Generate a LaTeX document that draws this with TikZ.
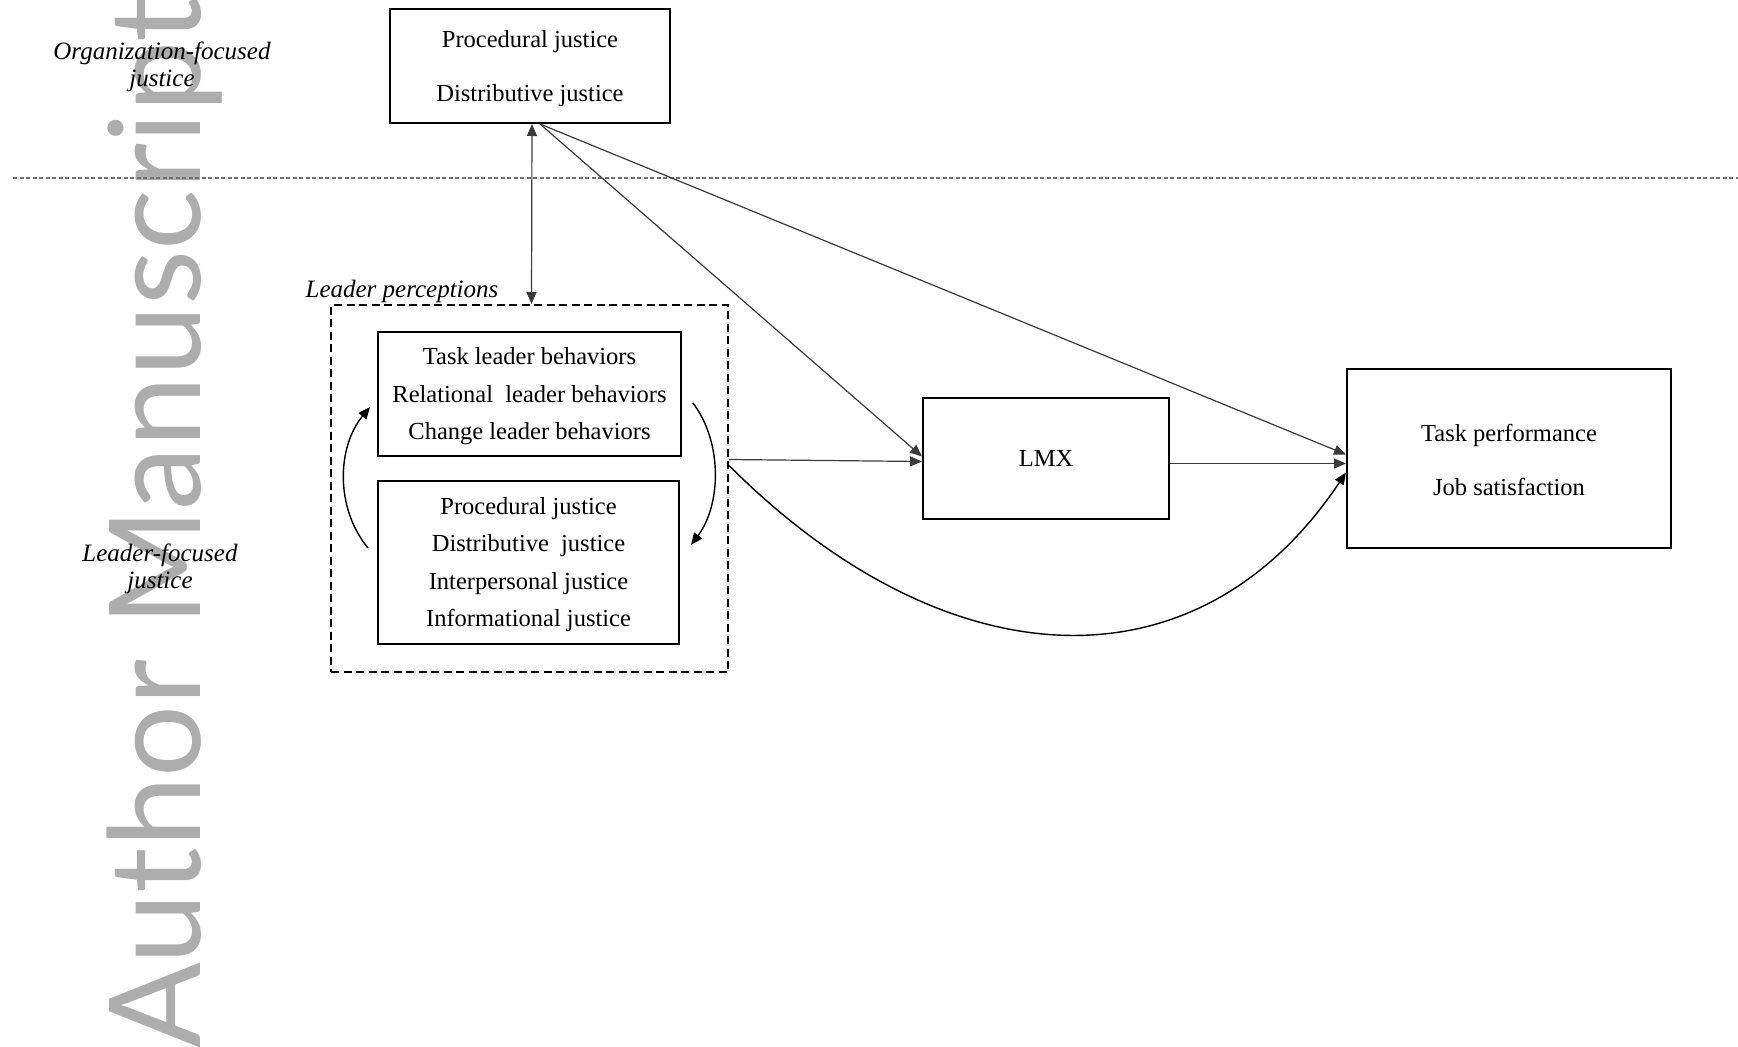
\documentclass[tikz,border=0pt]{standalone}
\usepackage{fontspec}
\setmainfont{Liberation Serif}
\newfontfamily\wmfont{Lato}
\usetikzlibrary{arrows.meta}
\definecolor{wmgray}{HTML}{ADADAD}
\definecolor{lngray}{HTML}{3A3A3A}
\definecolor{dotgray}{HTML}{707070}
\begin{document}
\begin{tikzpicture}[x=1pt,y=-1pt,
  box/.style={draw=black,line width=2pt,inner sep=0pt},
  boxtext/.style={inner sep=0pt,align=center,font=\fontsize{24.5}{37.5}\selectfont},
  widetext/.style={boxtext,font=\fontsize{24.5}{54}\selectfont},
  lab/.style={inner sep=0pt,align=center,font=\fontsize{25}{27}\selectfont\itshape},
  tip/.style={-{Triangle[length=12pt,width=10pt]}},
  arr/.style={tip,line width=1.2pt,draw=lngray},
  curvearr/.style={tip,line width=1.4pt,draw=black},
  dotline/.style={draw=dotgray,line width=1.3pt,dash pattern=on 4pt off 2.5pt},
  dashbox/.style={draw=black,line width=2pt,dash pattern=on 8pt off 4.5pt,inner sep=0pt},
  wmark/.style={rotate=90,anchor=base west,inner sep=0pt,text=wmgray,
    font=\wmfont\fontsize{127}{127}\selectfont}
]
\useasboundingbox (0,0) rectangle (1738,1047);
\fill[white] (0,0) rectangle (1738,1047);
\clip (0,0) rectangle (1738,1047);

% watermark
\node[wmark] (wm) at (200,1049) {Author Manuscript};

% divider
\coordinate (dl) at (13,178);
\coordinate (dr) at (1738,178);
\draw[dotline] (dl) -- (dr);

% labels
\node[lab] (orglab) at (162,67) {Organization-focused\\justice};
\node[lab] (leadlab) at (160,569) {Leader-focused\\justice};
\node[lab] (perclab) at (402,291) {Leader perceptions};

% boxes
\node[box,minimum width=280pt,minimum height=114pt] (top) at (530,66) {};
\node[widetext] (toptext) at ([yshift=-2.5pt]top.center) {Procedural justice\\Distributive justice};
\node[dashbox,minimum width=397pt,minimum height=367pt] (lp) at (529.5,488.5) {};
\node[box,minimum width=303pt,minimum height=124pt] (b1) at (529.5,394) {};
\node[boxtext] (b1text) at ([yshift=-2.5pt]b1.center)
  {Task leader behaviors\\Relational\ \ leader behaviors\\Change leader behaviors};
\node[box,minimum width=301pt,minimum height=163pt] (b2) at (528.5,562.5) {};
\node[boxtext] (b2text) at ([yshift=-2pt]b2.center)
  {Procedural justice\\Distributive\ \ justice\\Interpersonal justice\\Informational justice};
\node[box,minimum width=246pt,minimum height=121pt] (lmx) at (1046,458.5) {};
\node[boxtext] (lmxtext) at (lmx.center) {LMX};
\node[box,minimum width=324pt,minimum height=179pt] (out) at (1509,458.5) {};
\node[widetext] (outtext) at ([yshift=-1pt]out.center) {Task performance\\Job satisfaction};

% arrows
\draw[arr,{Triangle[length=12pt,width=10pt]}-{Triangle[length=12pt,width=10pt]}]
  ([xshift=2pt]top.south) -- ([xshift=2pt]lp.north);
\draw[arr] ([xshift=10pt]top.south) -- ([yshift=2pt]lmx.west);
\draw[arr] ([xshift=10pt]top.south) -- ([yshift=4pt]out.west);
\draw[arr] ([yshift=29pt]lp.east) -- ([yshift=-3pt]lmx.west);
\draw[arr] ([yshift=-5pt]lmx.east) -- ([yshift=-5pt]out.west);
\draw[curvearr] ([yshift=23pt]lp.east) .. controls +(215,215) and +(-150,225) .. ([yshift=-14pt]out.west);

% cycle arrows inside the dashed box
\coordinate (l1) at (368,548);
\coordinate (l2) at (370,407);
\coordinate (r1) at (693,403);
\coordinate (r2) at (691,545);
\draw[curvearr] (l1) .. controls (335,508) and (337,447) .. (l2);
\draw[curvearr] (r1) .. controls (723,443) and (721,505) .. (r2);
\end{tikzpicture}
\end{document}
